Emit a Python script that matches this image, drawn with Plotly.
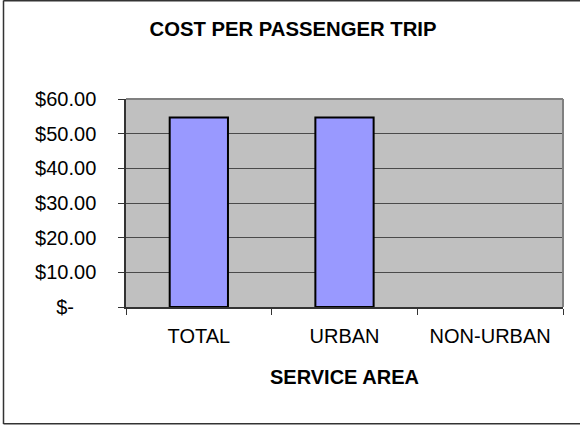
import plotly.graph_objects as go

categories = ["TOTAL", "URBAN", "NON-URBAN"]
cost_per_trip = [54.66, 54.66, None]
tick_values = [0, 10, 20, 30, 40, 50, 60]
tick_labels = ["$-\u00a0\u00a0\u00a0\u00a0", "$10.00", "$20.00", "$30.00", "$40.00", "$50.00", "$60.00"]

FONT = "Liberation Sans, Arial, sans-serif"

# plot area in pixels: x 126..563, y 99..307
L, R, T, B = 126, 17, 99, 118
W, H = 580, 425
pw, ph = W - L - R, H - T - B

def px_x(p):
    return (p - L) / pw

def px_y(p):
    return (H - B - p) / ph

fig = go.Figure()
fig.add_trace(go.Bar(
    x=categories, y=cost_per_trip, width=0.4,
    marker=dict(color="#9999FF", line=dict(color="#000000", width=2)),
))

fig.update_layout(
    width=W, height=H,
    margin=dict(l=L, r=R, t=T, b=B, pad=0, autoexpand=False),
    paper_bgcolor="white", plot_bgcolor="#C0C0C0",
    showlegend=False,
    font=dict(family=FONT, size=20, color="#000000"),
    title=dict(text="<b>COST PER PASSENGER TRIP</b>", x=293 / W, xanchor="center",
               y=1 - 29 / H, yanchor="middle", font=dict(family=FONT, size=20.3, color="#000")),
    bargap=0.6,
)
fig.update_xaxes(
    type="category", tickson="boundaries", ticks="outside", ticklen=6, tickcolor="#333",
    showline=True, linecolor="#333", linewidth=1.5, showgrid=False, automargin=False,
    tickfont=dict(family=FONT, size=20, color="#000"), ticklabelstandoff=10,
)
fig.update_yaxes(
    range=[0, 60], tickvals=tick_values, ticktext=tick_labels, automargin=False,
    ticks="outside", ticklen=6, tickcolor="#333",
    showline=True, linecolor="#333", linewidth=1.5,
    showgrid=True, gridcolor="#4a4a4a", gridwidth=1, zeroline=False,
    tickfont=dict(family=FONT, size=20, color="#000"), ticklabelstandoff=18,
)

# plot area border (top/right grey)
fig.add_shape(type="line", xref="paper", yref="paper", x0=0, x1=1, y0=1, y1=1,
              line=dict(color="#808080", width=2), layer="above")
fig.add_shape(type="line", xref="paper", yref="paper", x0=1, x1=1, y0=0, y1=1,
              line=dict(color="#808080", width=2), layer="above")

# chart outer border (left, top, bottom; right edge lies outside the picture)
border = dict(color="#333333", width=1.5)
fig.add_shape(type="line", xref="paper", yref="paper",
              x0=px_x(3.5), x1=px_x(3.5), y0=px_y(424), y1=px_y(0.5), line=border, layer="below")
fig.add_shape(type="line", xref="paper", yref="paper",
              x0=px_x(3.5), x1=px_x(580), y0=px_y(0.8), y1=px_y(0.8), line=border, layer="below")
fig.add_shape(type="line", xref="paper", yref="paper",
              x0=px_x(3.5), x1=px_x(580), y0=px_y(423.8), y1=px_y(423.8), line=border, layer="below")

fig.add_annotation(text="<b>SERVICE AREA</b>", xref="paper", yref="paper",
                   x=0.5, y=px_y(377), xanchor="center", yanchor="middle", showarrow=False,
                   font=dict(family=FONT, size=20, color="#000"))

fig.write_html(
    "out.html", config={"displayModeBar": False},
    post_script=("document.body.style.margin='0';"
                 "document.body.style.overflow='hidden';"
                 "document.documentElement.style.overflow='hidden';"),
)
